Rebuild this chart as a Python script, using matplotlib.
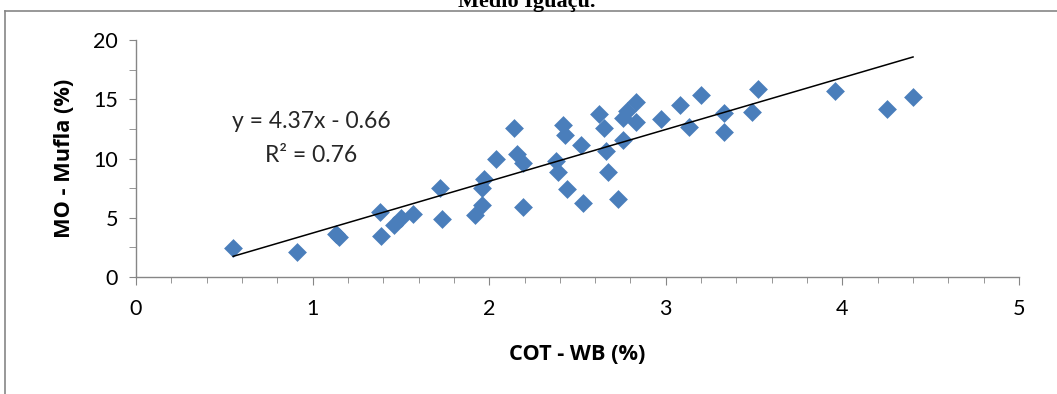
"""
Dispersão COT (Walkley-Black) x MO (Mufla) - Médio Iguaçu
"""
import numpy as np
import matplotlib
matplotlib.use("Agg")
import matplotlib.pyplot as plt
from matplotlib.lines import Line2D
from matplotlib.ticker import MultipleLocator

plt.rcParams['font.family'] = ['Lato', 'DejaVu Sans']

# dados
cot_wb = [0.55, 0.91, 1.13, 1.15, 1.38, 1.39, 1.46, 1.50, 1.57, 1.72,
          1.73, 1.92, 1.96, 1.96, 1.97, 2.04, 2.14, 2.16, 2.19, 2.19,
          2.38, 2.39, 2.42, 2.43, 2.44, 2.52, 2.53, 2.62, 2.65, 2.66,
          2.67, 2.73, 2.76, 2.76, 2.78, 2.83, 2.83, 2.97, 3.08, 3.13,
          3.20, 3.33, 3.33, 3.49, 3.52, 3.96, 4.25, 4.40]
mo_mufla = [2.42, 2.15, 3.65, 3.35, 5.50, 3.50, 4.35, 4.95, 5.35, 7.50,
            4.90, 5.25, 6.05, 7.50, 8.30, 9.95, 12.60, 10.35, 9.60, 5.90,
            9.75, 8.90, 12.85, 12.00, 7.45, 11.10, 6.25, 13.75, 12.55, 10.65,
            8.85, 6.55, 13.40, 11.55, 14.05, 14.80, 13.10, 13.30, 14.50, 12.70,
            15.35, 13.80, 12.25, 13.95, 15.90, 15.70, 14.15, 15.20]

# linha de tendência (Excel)
slope = 4.37
intercept = -0.66
r2 = 0.76

x = np.array(cot_wb)
y = np.array(mo_mufla)

fig = plt.figure(figsize=(10.57, 3.94), dpi=100)
ax = fig.add_axes([136 / 1057, 1 - 277 / 394, (1019 - 136) / 1057, (277 - 40) / 394])

ax.scatter(x, y, marker='D', s=92, color='#4A7EBB', linewidths=0, zorder=3)

xl = np.array([x.min(), x.max()])
ax.plot(xl, slope * xl + intercept, color='black', lw=1.1, zorder=4)

fig.text(311 / 1057, 1 - 122 / 394, f'y = {slope:.2f}x - {abs(intercept):.2f}',
         ha='center', va='center', fontsize=16.5, color='#262626')
fig.text(311 / 1057, 1 - 155 / 394, f'R² = {r2:.2f}',
         ha='center', va='center', fontsize=16.5, color='#262626')

ax.set_xlim(0, 5)
ax.set_ylim(0, 20)
ax.xaxis.set_major_locator(MultipleLocator(1))
ax.xaxis.set_minor_locator(MultipleLocator(0.2))
ax.yaxis.set_major_locator(MultipleLocator(5))
ax.yaxis.set_minor_locator(MultipleLocator(2.5))

for s in ['top', 'right']:
    ax.spines[s].set_visible(False)
for s in ['left', 'bottom']:
    ax.spines[s].set_color('#868686')
    ax.spines[s].set_linewidth(1.0)

ax.tick_params(axis='x', which='major', length=6, color='#868686', labelsize=15.5,
               pad=10, labelcolor='black')
ax.tick_params(axis='x', which='minor', length=4, color='#868686')
ax.tick_params(axis='y', which='both', length=5, color='#868686', labelsize=15.5,
               pad=8, labelcolor='black')

ax.set_xlabel('COT - WB (%)', fontsize=15.7, fontweight='bold', labelpad=18,
              family='Open Sans')
ax.set_ylabel('MO - Mufla (%)', fontsize=15.7, fontweight='bold', labelpad=13,
              family='Open Sans')

# borda da área do gráfico
fig.add_artist(Line2D([5 / 1057, 1], [1 - 11 / 394, 1 - 11 / 394],
                      transform=fig.transFigure, color='#868686', lw=1.2))
fig.add_artist(Line2D([5 / 1057, 5 / 1057], [0, 1 - 11 / 394],
                      transform=fig.transFigure, color='#868686', lw=1.2))

# título cortado no topo (como na figura original)
fig.text(527 / 1057, 1 - 7 / 394, 'Medio Iguaçu.', ha='center', va='baseline',
         fontsize=16, fontweight='bold', family='Liberation Serif')

fig.savefig('out.png', dpi=100)
